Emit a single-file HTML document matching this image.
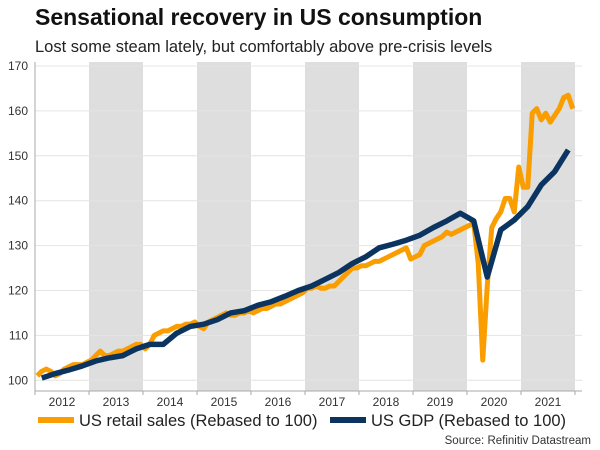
<!DOCTYPE html>
<html><head><meta charset="utf-8">
<style>
body{margin:0;background:#fff;width:600px;height:450px;overflow:hidden;font-family:"Liberation Sans",sans-serif;}
#t{position:absolute;left:35px;top:4px;font-size:23px;font-weight:bold;color:#111;}
#s{position:absolute;left:35px;top:38px;font-size:16.5px;color:#222;}
svg{position:absolute;left:0;top:0;}
</style></head><body>
<div id="t">Sensational recovery in US consumption</div>
<div id="s">Lost some steam lately, but comfortably above pre-crisis levels</div>
<svg id="c" width="600" height="450"></svg>
<script>
const years=[2012,2013,2014,2015,2016,2017,2018,2019,2020,2021];
const yTicks=[100,110,120,130,140,150,160,170];
const gdp=[100.5,101.5,102.3,103.2,104.3,105,105.5,107,108,108,110.5,112,112.5,113.5,115,115.5,116.7,117.5,118.7,120,121,122.5,124,126,127.5,129.5,130.3,131.2,132.3,134,135.5,137.2,135.5,123,133.5,135.7,138.7,143.5,146.5,151.3];
const retail=[101,102,102.5,102,101,101.5,102.5,103,103.5,103.5,103.5,104,
104.5,105.5,106.5,105.5,105.5,106,106.5,106.5,107,107.5,108,108,
107,108,110,110.5,111,111,111.5,112,112,112.5,112.5,113,
112,111.5,113,113.5,114,114.5,115,114.5,114.5,115,115,115.5,
115,115.5,116,116,116.5,117,117,117.5,118,118.5,119,119.5,
120.5,120.5,121,120.5,120.5,121,121,122,123,124,125,125,
125.5,125.5,126,126.5,126.5,127,127.5,128,128.5,129,129.5,127,
127.5,128,130,130.5,131,131.5,132,133,132.5,133,133.5,134,
134.5,135,126,104.5,121,134,136,137.5,140.5,140.5,137.5,147.5,
143,143,159.5,160.5,158,159.5,157.5,159,160.5,163,163.5,160.5];
const NS="http://www.w3.org/2000/svg";
const svg=document.getElementById('c');
const X0=35,YW=54,X1=582;
const y=v=>380.3-(v-100)*4.49;
const xm=m=>X0+(m+0.5)*YW/12;
const xq=q=>X0+(q+0.5)*YW/4;
function el(tag,attrs){const e=document.createElementNS(NS,tag);for(const k in attrs)e.setAttribute(k,attrs[k]);svg.appendChild(e);return e;}
years.forEach((yr,i)=>{
  if(i%2==1){const r=el('rect',{x:X0+i*YW,y:62,width:YW,height:329,fill:'#dedede'});
  
  }
  const t=el('text',{x:X0+i*YW+YW/2,y:406,'text-anchor':'middle','font-size':12,fill:'#333'});
  t.textContent=yr;
  
  
  el('line',{x1:X0+i*YW,x2:X0+i*YW,y1:391,y2:395,stroke:'#aaa'});
});
el('line',{x1:X0+10*YW,x2:X0+10*YW,y1:391,y2:395,stroke:'#aaa'});
yTicks.forEach(v=>{
  const g=el('line',{x1:X0,x2:X1,y1:y(v),y2:y(v),stroke:'#e4e4e4','stroke-width':1});
  
  
  const t=el('text',{x:28,y:y(v)+4,'text-anchor':'end','font-size':12,fill:'#333'});
  t.textContent=v;
  
  
});
el('line',{x1:X0,x2:X0,y1:62,y2:391,stroke:'#aaa'});
el('line',{x1:X0,x2:X1,y1:391,y2:391,stroke:'#aaa'});
const rl=el('polyline',{points:retail.map((v,i)=>xm(i)+','+y(v)).join(' '),fill:'none',stroke:'#f99d00','stroke-width':5,'stroke-linejoin':'round'});


const gl=el('polyline',{points:gdp.map((v,i)=>xq(i)+','+y(v)).join(' '),fill:'none',stroke:'#0b3460','stroke-width':5.5,'stroke-linejoin':'round'});


</script>
<svg width="600" height="450" style="pointer-events:none">
<g><rect x="38" y="417" width="36" height="6" fill="#f99d00"/><text x="79" y="426" font-size="16.5" fill="#222" font-family="Liberation Sans">US retail sales (Rebased to 100)</text></g>
<g><rect x="330" y="417" width="36" height="6" fill="#0b3460"/><text x="371" y="426" font-size="16.5" fill="#222" font-family="Liberation Sans">US GDP (Rebased to 100)</text></g>
<text x="591" y="444" text-anchor="end" font-size="11.5" fill="#333" font-family="Liberation Sans">Source: Refinitiv Datastream</text>
</svg>
</body></html>
